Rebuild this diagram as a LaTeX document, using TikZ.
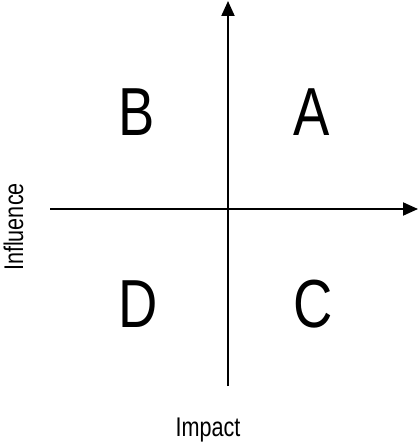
\documentclass[tikz,border=0pt]{standalone}
\usepackage{fontspec}
\setmainfont{Liberation Sans}[FakeStretch=0.8]
\usetikzlibrary{
		positioning,
		arrows.meta
	}
\tikzset{
		>={Triangle[length=15pt,width=13pt]},
		axis/.style={draw=black, line width=2pt},
		quadrant/.style={font=\fontsize{68}{68}\selectfont, inner sep=0pt},
		axislabel/.style={font=\fontsize{27}{27}\selectfont, inner sep=0pt}
	}

\begin{document}
\begin{tikzpicture}[x=1pt, y=-1pt]
		\useasboundingbox (0,0) rectangle (418,446);
		% axes
		\coordinate (vbottom) at (228,386);
		\coordinate (vtop) at (228,1);
		\coordinate (hleft) at (50,209);
		\coordinate (hright) at (418,209);
		\draw [axis, ->] (vbottom) -- (vtop);
		\draw [axis, ->] (hleft) -- (hright);
		% quadrants
		\node [quadrant] (qA) at (312,112) {A};
		\node [quadrant] (qB) at (137,112) {B};
		\node [quadrant] (qC) at (313,304) {C};
		\node [quadrant] (qD) at (138,304) {D};
		% labels
		\node [axislabel, anchor=base] (impact) at (208,436) {Impact};
		\node [axislabel, rotate=90, anchor=base] (influence) at (23,227) {Influence};
	\end{tikzpicture}
\end{document}
